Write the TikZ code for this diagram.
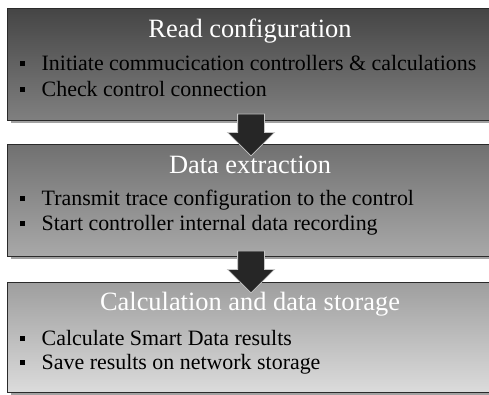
\documentclass[tikz,border=0pt]{standalone}
\usepackage{fontspec}
\setmainfont{Liberation Serif}
\newfontfamily\stagefont{Liberation Serif}
\usetikzlibrary{shapes.arrows,shadows,positioning,calc}
\definecolor{boxline}{HTML}{2A2A2A}
\definecolor{arrowfill}{HTML}{262626}
\newcommand{\sqbullet}{\rule[4.5bp]{5bp}{5bp}}

\tikzset{
  stagebox/.style={draw=boxline,line width=1bp,minimum width=484bp,
    minimum height=112bp,inner sep=0pt,
    drop shadow={shadow xshift=3bp,shadow yshift=-3bp,fill=black!37,opacity=1}},
  stagetitle/.style={anchor=base,text=white,inner sep=0pt,
    font=\stagefont\fontsize{26.5}{30}\selectfont},
  stageitem/.style={anchor=base west,inner sep=0pt,
    font=\stagefont\fontsize{22}{26}\selectfont},
  blockarrow/.style={single arrow,rotate=-90,anchor=tail,fill=arrowfill,
    draw=black!22,line width=0.8bp,minimum height=42bp,inner sep=13bp,
    single arrow head extend=10bp,single arrow tip angle=90}
}

\begin{document}
\begin{tikzpicture}[x=1bp,y=-1bp]
  \useasboundingbox (0,0) rectangle (489,394);

  % the three stages
  \node[stagebox,top color=black!73,bottom color=black!50] (b1) at (250,64) {};
  \node[stagebox,top color=black!56,bottom color=black!34] (b2) at (250,200) {};
  \node[stagebox,minimum height=110bp,top color=black!38,bottom color=black!14] (b3) at (250,337) {};

  \node[stagetitle] (t1) at ([yshift=-30bp]b1.north) {Read configuration};
  \node[stageitem] (i11) at ([xshift=12bp,yshift=-63bp]b1.north west)
    {\sqbullet\hspace{17bp}Initiate commucication controllers \& calculations};
  \node[stageitem] (i12) at ([xshift=12bp,yshift=-89bp]b1.north west)
    {\sqbullet\hspace{17bp}Check control connection};

  \node[stagetitle] (t2) at ([yshift=-30bp]b2.north) {Data extraction};
  \node[stageitem] (i21) at ([xshift=12bp,yshift=-62bp]b2.north west)
    {\sqbullet\hspace{17bp}Transmit trace configuration to the control};
  \node[stageitem] (i22) at ([xshift=12bp,yshift=-87bp]b2.north west)
    {\sqbullet\hspace{17bp}Start controller internal data recording};

  \node[stagetitle] (t3) at ([yshift=-29bp]b3.north) {Calculation and data storage};
  \node[stageitem] (i31) at ([xshift=12bp,yshift=-64bp]b3.north west)
    {\sqbullet\hspace{17bp}Calculate Smart Data results};
  \node[stageitem] (i32) at ([xshift=12bp,yshift=-88bp]b3.north west)
    {\sqbullet\hspace{17bp}Save results on network storage};

  % arrows between stages
  \node[blockarrow] (a1) at ([xshift=1bp,yshift=7bp]b1.south) {};
  \node[blockarrow] (a2) at ([xshift=1bp,yshift=6bp]b2.south) {};
\end{tikzpicture}
\end{document}
